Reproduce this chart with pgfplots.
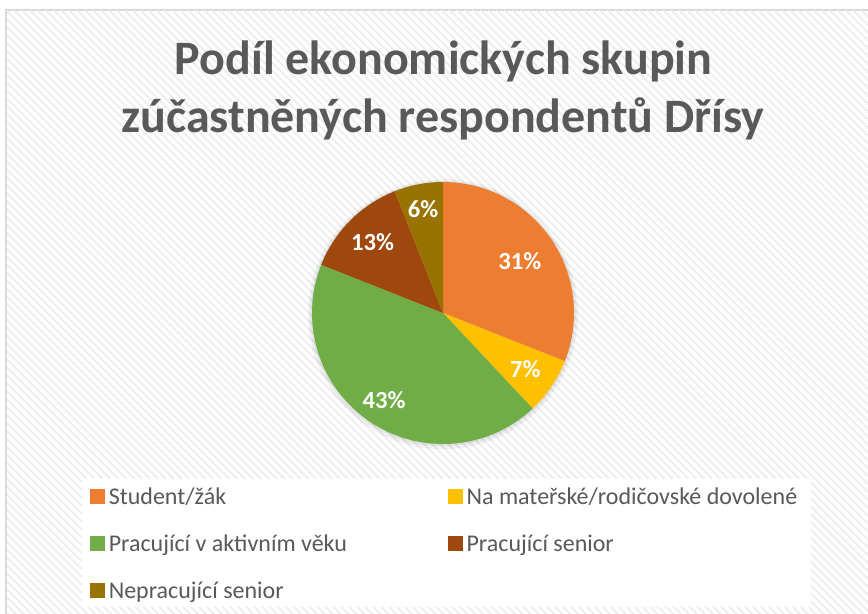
\documentclass[border=0pt]{standalone}
\usepackage{fontspec}
\setmainfont{Carlito}
\usepackage{pgfplots}
\pgfplotsset{compat=1.18}
\usepackage{pgfplotstable}
\usetikzlibrary{patterns.meta}

\definecolor{c0}{HTML}{ED7D31}
\definecolor{c1}{HTML}{FFC000}
\definecolor{c2}{HTML}{70AD47}
\definecolor{c3}{HTML}{9E480E}
\definecolor{c4}{HTML}{997300}
\definecolor{tc}{HTML}{595959}
\definecolor{frame}{HTML}{D9D9D9}

\pgfplotstableread{
key value dist
Student 31 0.71
Materska 7 0.76
Aktivni 43 0.80
PSenior 13 0.76
NSenior 6 0.81
}\piedata

\begin{document}
\begin{tikzpicture}
\useasboundingbox (0,0) rectangle (434pt,-307pt);
\begin{scope}
\clip (0,0) rectangle (434pt,-307pt);
\draw[draw=frame, line width=0.75pt, fill=white] (3pt,-5pt) rectangle (440pt,-312pt);
\fill[pattern={Lines[angle=-45,distance=2.8pt,line width=0.9pt]}, pattern color=black!7] (3.4pt,-5.4pt) rectangle (440pt,-312pt);
\end{scope}
\node[anchor=base, font=\fontsize{24}{29}\selectfont\bfseries, text=tc] at (221.8pt,-37.5pt) {Podíl ekonomických skupin};
\node[anchor=base, font=\fontsize{24}{29}\selectfont\bfseries, text=tc] at (221.5pt,-66.5pt) {zúčastněných respondentů Dřísy};

\gdef\cum{90}
\pgfplotsforeachungrouped \idx in {0,...,4}{%
  \pgfplotstablegetelem{\idx}{value}\of\piedata
  \let\pval\pgfplotsretval
  \pgfplotstablegetelem{\idx}{dist}\of\piedata
  \let\pdist\pgfplotsretval
  \pgfmathsetmacro\pst{\cum}%
  \pgfmathsetmacro\pen{\cum-3.6*\pval}%
  \pgfmathsetmacro\pmi{(\pst+\pen)/2}%
  \pgfmathsetmacro\plx{\pdist*cos(\pmi)}%
  \pgfmathsetmacro\ply{\pdist*sin(\pmi)}%
  \expandafter\xdef\csname ps\idx\endcsname{\pst}%
  \expandafter\xdef\csname pe\idx\endcsname{\pen}%
  \expandafter\xdef\csname lx\idx\endcsname{\plx}%
  \expandafter\xdef\csname ly\idx\endcsname{\ply}%
  \expandafter\xdef\csname pv\idx\endcsname{\pval}%
  \xdef\cum{\pen}%
}

\begin{axis}[
  at={(221.5pt,-156.5pt)}, anchor=center,
  scale only axis, width=131pt, height=131pt,
  xmin=-1, xmax=1, ymin=-1, ymax=1,
  hide axis, clip=false,
  legend columns=2,
  legend cell align=left,
  legend style={at={(-0.8779,-0.1336)}, anchor=north west, draw=none, fill=white,
    inner xsep=4pt, inner ysep=0pt, row sep=6.5pt,
    font=\fontsize{12}{14}\selectfont, text=tc,
    nodes={inner xsep=2pt, inner ysep=0pt, minimum height=17pt, text depth=0pt, text=tc},
    cells={anchor=west}},
]
\fill[black, opacity=0.05] (axis cs:0,-0.01) circle[radius=67.5pt];
\fill[black, opacity=0.06] (axis cs:0,-0.005) circle[radius=66.3pt];
\pgfplotsinvokeforeach{0,...,4}{
  \fill[c#1] (axis cs:0,0) -- (axis cs:{cos(\csname ps#1\endcsname)},{sin(\csname ps#1\endcsname)}) arc[start angle=\csname ps#1\endcsname, end angle=\csname pe#1\endcsname, radius=65.5pt] -- cycle;
}
\pgfplotsinvokeforeach{0,...,4}{
  \node[font=\fontsize{12.3}{14}\selectfont\bfseries, text=white] at (axis cs:\csname lx#1\endcsname,\csname ly#1\endcsname) {\csname pv#1\endcsname\%};
}
\addlegendimage{legend image code/.code={\fill[c0] (0pt,-3.4pt) rectangle (6.8pt,3.4pt);}}
\addlegendentry{\makebox[167.7pt][l]{Student/žák}}
\addlegendimage{legend image code/.code={\fill[c1] (0pt,-3.4pt) rectangle (6.8pt,3.4pt);}}
\addlegendentry{\makebox[166pt][l]{Na mateřské/rodičovské dovolené}}
\addlegendimage{legend image code/.code={\fill[c2] (0pt,-3.4pt) rectangle (6.8pt,3.4pt);}}
\addlegendentry{\makebox[167.7pt][l]{Pracující v aktivním věku}}
\addlegendimage{legend image code/.code={\fill[c3] (0pt,-3.4pt) rectangle (6.8pt,3.4pt);}}
\addlegendentry{\makebox[166pt][l]{Pracující senior}}
\addlegendimage{legend image code/.code={\fill[c4] (0pt,-3.4pt) rectangle (6.8pt,3.4pt);}}
\addlegendentry{\makebox[167.7pt][l]{Nepracující senior}}
\end{axis}
\end{tikzpicture}
\end{document}
